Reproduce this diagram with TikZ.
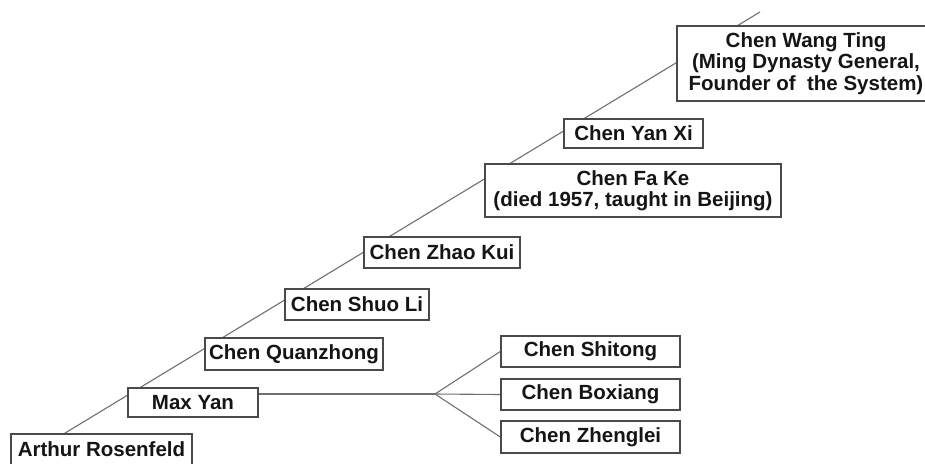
\documentclass[tikz,border=0pt]{standalone}
\usepackage{fontspec}
\setmainfont{Liberation Sans}
\usetikzlibrary{backgrounds,calc}
\definecolor{boxline}{HTML}{4A4A4A}
\definecolor{connline}{HTML}{707070}
\definecolor{txt}{HTML}{151515}
\tikzset{
  person/.style={draw=boxline, line width=1.4pt, fill=white, inner sep=0pt,
    align=center, text=txt, font=\fontsize{20.5}{21.5}\selectfont\bfseries},
  conn/.style={draw=connline, line width=1.1pt},
}
\begin{document}
\begin{tikzpicture}[x=1pt,y=-1pt]
\useasboundingbox (0,0) rectangle (925,463);
% boxes (center, width, height in px)
\node[person, minimum width=181pt, minimum height=31pt] (arthur) at (101.5,449.5) {Arthur Rosenfeld};
\node[person, minimum width=130pt, minimum height=29pt] (maxyan) at (193,402.5) {Max Yan};
\node[person, minimum width=178pt, minimum height=32pt] (quanzhong) at (294,354) {Chen Quanzhong};
\node[person, minimum width=144pt, minimum height=31pt] (shuoli) at (357,304.5) {Chen Shuo Li};
\node[person, minimum width=156pt, minimum height=31pt] (zhaokui) at (442,252.5) {Chen Zhao Kui};
\node[person, minimum width=296pt, minimum height=53pt] (fake) at (633,190.5) {Chen Fa Ke\\(died 1957, taught in Beijing)};
\node[person, minimum width=139pt, minimum height=29pt] (yanxi) at (633.5,133.5) {Chen Yan Xi};
\node[person, minimum width=258pt, minimum height=75pt] (wangting) at (806,63.5) {Chen Wang Ting\\(Ming Dynasty General,\\Founder of\ \ the System)};
\node[person, minimum width=179pt, minimum height=31pt] (shitong) at (590.5,351.5) {Chen Shitong};
\node[person, minimum width=179pt, minimum height=31pt] (boxiang) at (590.5,394.5) {Chen Boxiang};
\node[person, minimum width=179pt, minimum height=32pt] (zhenglei) at (590.5,437) {Chen Zhenglei};
\coordinate (diagtop) at (760,12);
\coordinate (fork) at (435,394);
\begin{scope}[on background layer]
  \fill[white] (0,0) rectangle (925,463);
  \draw[conn] ($(arthur.north west)!0.298!(arthur.north east)$) -- (diagtop);
  \draw[conn] (maxyan.east |- fork) -- (fork);
  \draw[conn] (fork) -- (shitong.west);
  \draw[conn] (fork) -- (boxiang.west);
  \draw[conn] (fork) -- (zhenglei.west);
\end{scope}
\end{tikzpicture}
\end{document}
